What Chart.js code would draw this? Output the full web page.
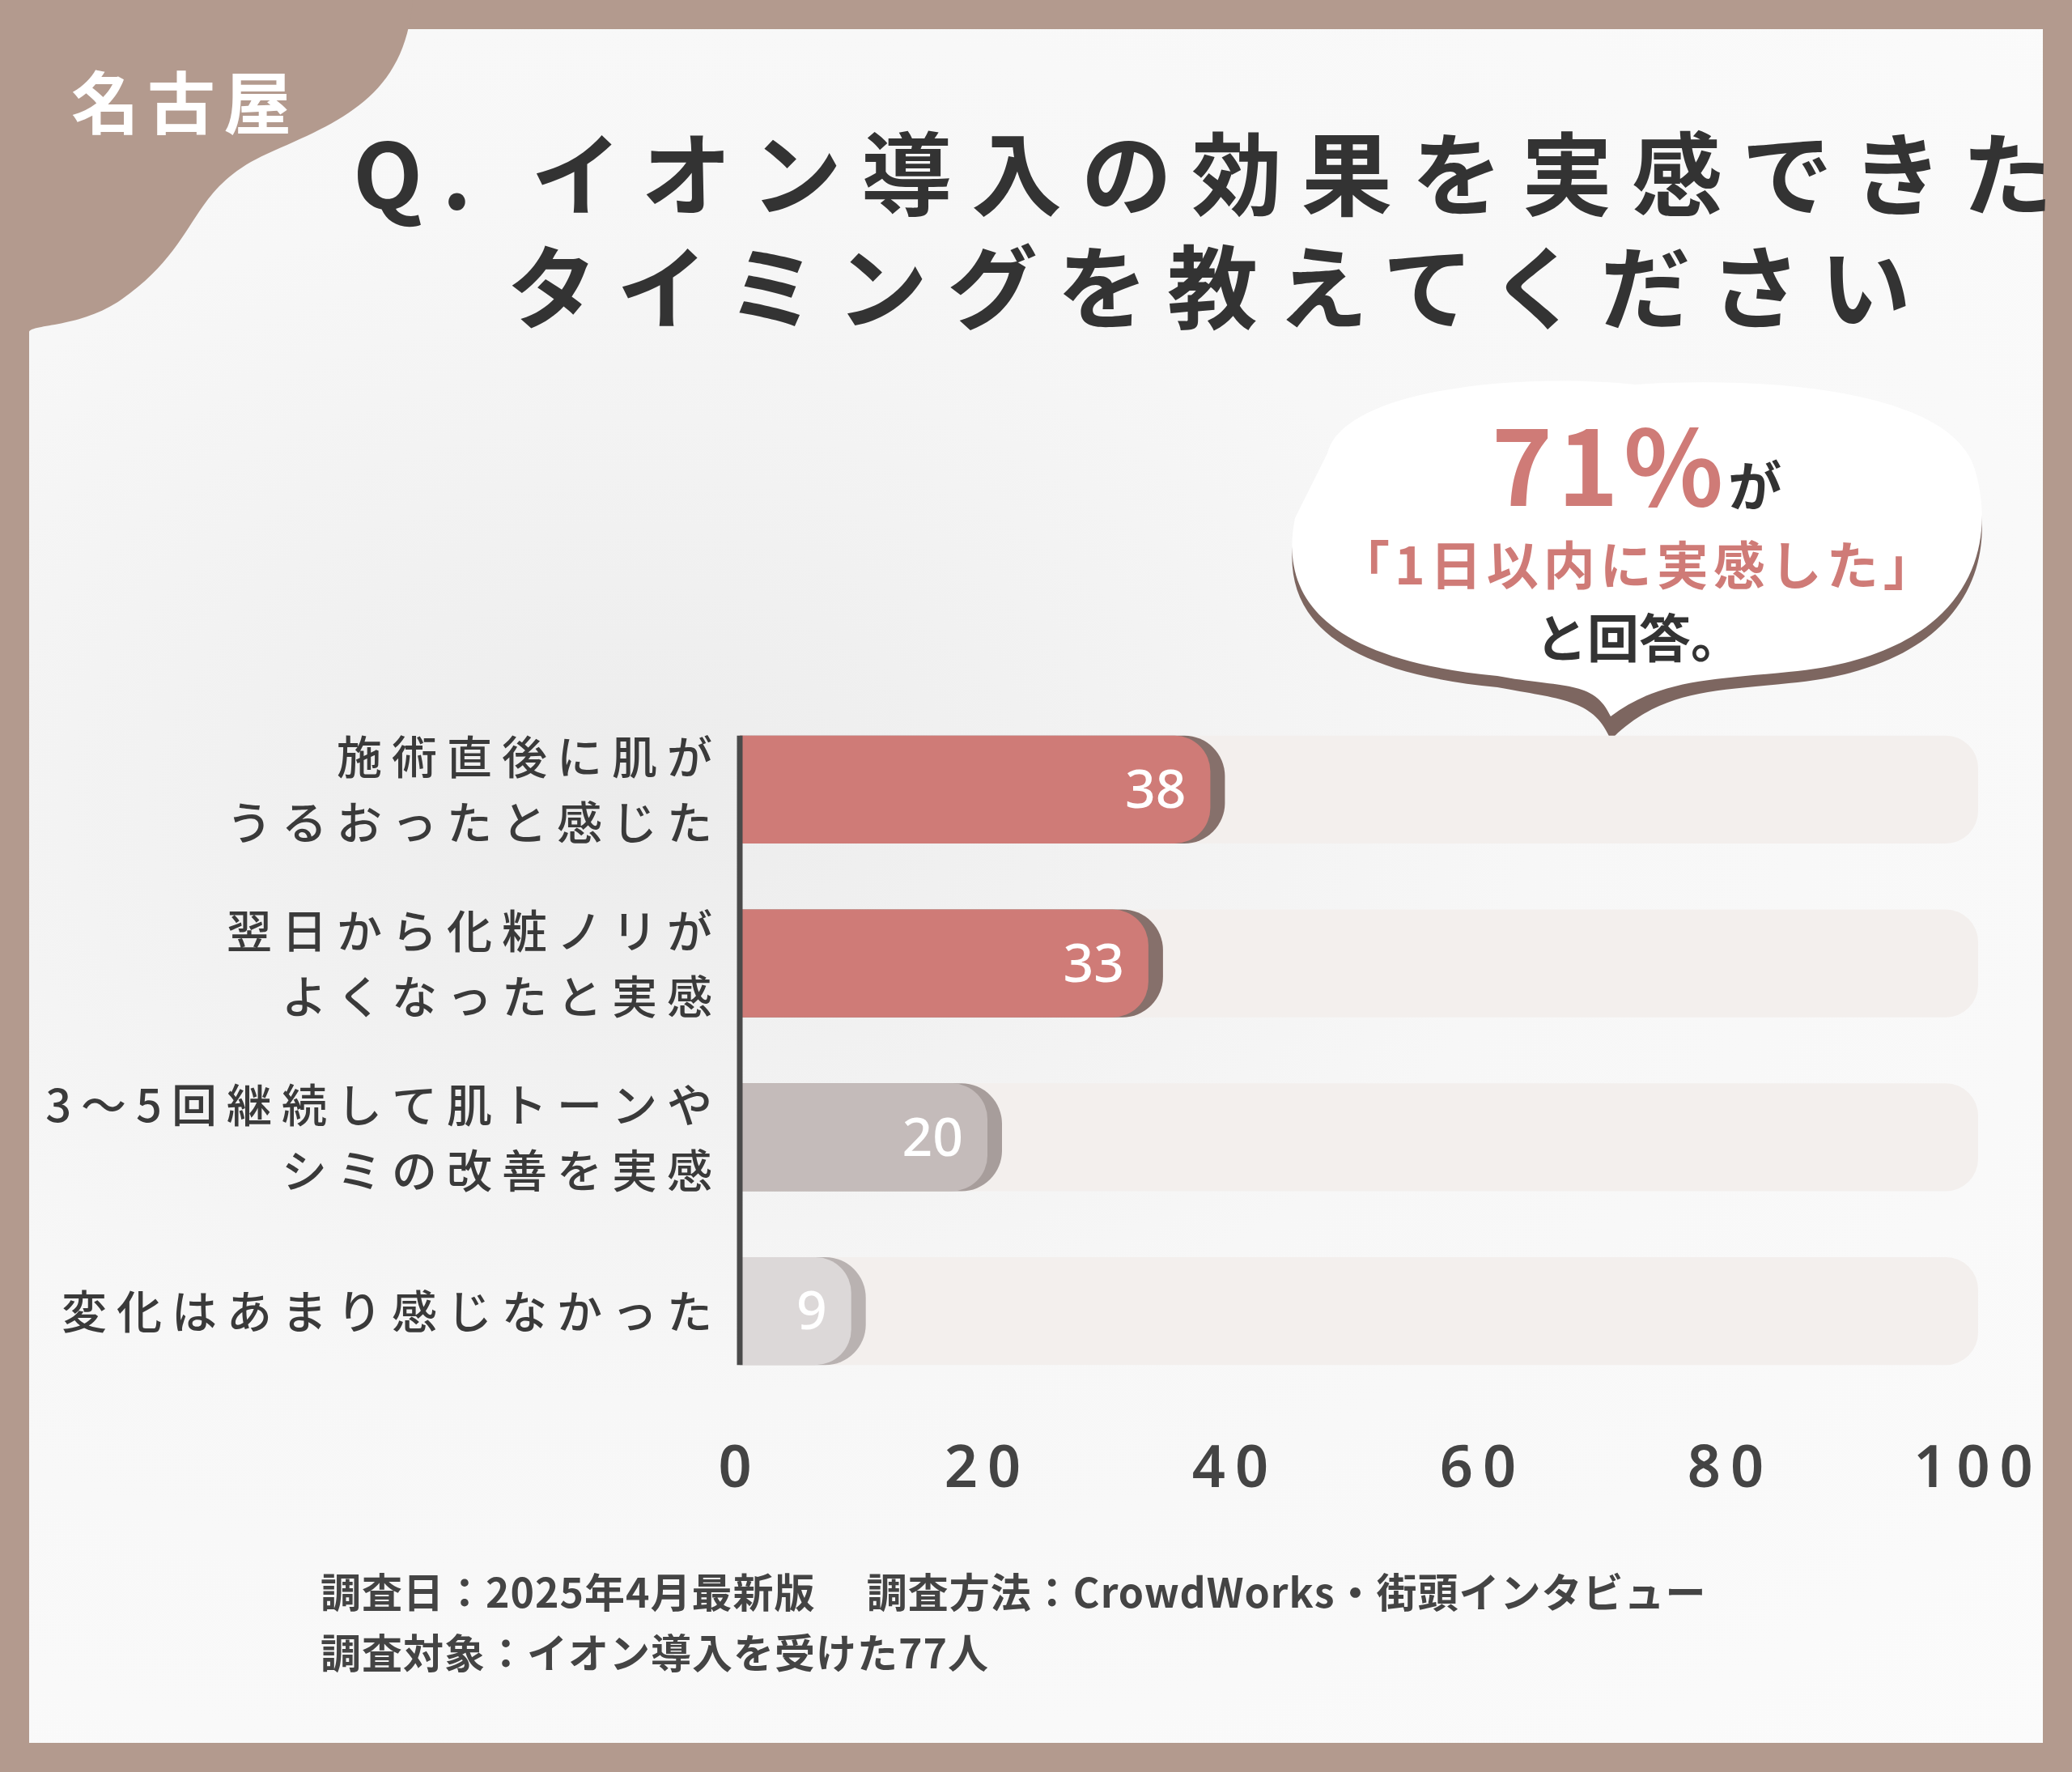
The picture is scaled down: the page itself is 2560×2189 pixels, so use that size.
<!DOCTYPE html>
<html>
<head>
<meta charset="utf-8">
<script src="https://cdn.jsdelivr.net/npm/chart.js@4"></script>
<style>
  html, body { margin: 0; padding: 0; }
  body { width: 2560px; height: 2189px; background: #b39a8e; position: relative; overflow: hidden;
         font-family: "Noto Sans CJK JP", "Noto Sans", sans-serif; }
  #panel { position: absolute; left: 36px; top: 36px; width: 2488px; height: 2117px;
           background: radial-gradient(ellipse at 30% 45%, #ececec 0%, #f7f7f7 45%, #fbfbfb 100%); }
  #blob { position: absolute; left: 0; top: 0; width: 520px; height: 420px; }
  #city { position: absolute; left: 88px; top: 62px; font-size: 84px; font-weight: 700; color: #fff; letter-spacing: 10px; }
  .title { position: absolute; font-size: 112px; font-weight: 700; color: #333; letter-spacing: 24px; white-space: nowrap; }
  #bubble { position: absolute; left: 1580px; top: 470px; width: 890px; height: 440px; }
  .btxt { position: absolute; width: 890px; left: 1580px; text-align: center; white-space: nowrap; }
  .foot { position: absolute; left: 396px; font-size: 50px; font-weight: 700; color: #444; white-space: nowrap; letter-spacing: 1px; }
  canvas { position: absolute; left: 0; top: 0; }
</style>
</head>
<body>
<div id="panel"></div>
<svg id="blob" viewBox="0 0 520 420">
  <path d="M0 0 H510 C500 120 420 150 330 190 C230 235 250 300 150 370 C100 405 40 400 36 410 V0 Z" fill="#b39a8e"/>
</svg>
<div id="city">名古屋</div>
<div class="title" style="left:436px; top:128px;">Q. イオン導入の効果を実感できた</div>
<div class="title" style="left:626px; top:268px;">タイミングを教えてください</div>

<svg id="bubble" viewBox="0 0 890 440">
  <path d="M60 90 C80 10 300 -10 440 5 C600 -5 830 10 860 110 C890 210 850 340 630 360 C530 370 470 370 410 430 C390 380 350 380 270 365 C60 345 0 270 20 170 Z"
        fill="#7d6660" transform="translate(0,14)"/>
  <path d="M60 90 C80 10 300 -10 440 5 C600 -5 830 10 860 110 C890 210 850 340 630 360 C530 370 470 370 410 415 C390 370 350 380 270 365 C60 345 0 270 20 170 Z"
        fill="#ffffff"/>
</svg>
<div class="btxt" style="top:500px; color:#cf7b77; font-size:128px; font-weight:700; letter-spacing:6px; line-height:1.1;">71%<span style="font-size:66px; color:#333;">が</span></div>
<div class="btxt" style="top:648px; color:#cf7b77; font-size:64px; font-weight:700; letter-spacing:6px;">「1日以内に実感した」</div>
<div class="btxt" style="top:738px; color:#333; font-size:64px; font-weight:700;">と回答。</div>

<div class="foot" style="top:1928px;">調査日：2025年4月最新版　 調査方法：CrowdWorks・街頭インタビュー</div>
<div class="foot" style="top:2003px;">調査対象：イオン導入を受けた77人</div>

<canvas id="c" width="2560" height="2189"></canvas>
<script>
const categories = [
  ['施術直後に肌が', 'うるおったと感じた'],
  ['翌日から化粧ノリが', 'よくなったと実感'],
  ['3～5回継続して肌トーンや', 'シミの改善を実感'],
  ['変化はあまり感じなかった']
];
const values = [38, 33, 20, 9];
const track = [100, 100, 100, 100];
const barColors = ['#cf7b77', '#cf7b77', '#c4bbba', '#dcd8d8'];
const shadowColors = ['#86706b', '#86706b', '#a79d9b', '#b9b2b1'];
const xTicks = [0, 20, 40, 60, 80, 100];

const barDecor = {
  id: 'barDecor',
  beforeDraw(chart) {
    chart.ctx.letterSpacing = '12px';
  },
  beforeDatasetsDraw(chart) {
    chart.ctx.letterSpacing = '0px';
  },
  afterDatasetDraw(chart, args) {
    if (args.index !== 0) return;
    // shadow on top of the track, behind the value bar
    const ctx = chart.ctx;
    chart.getDatasetMeta(1).data.forEach((bar, i) => {
      const h = bar.height, top = bar.y - h / 2;
      ctx.save();
      ctx.fillStyle = shadowColors[i];
      ctx.beginPath();
      ctx.roundRect(bar.base, top, bar.x - bar.base + 18, h, [0, 50, 50, 0]);
      ctx.fill();
      ctx.restore();
    });
  },
  afterDatasetsDraw(chart) {
    const ctx = chart.ctx;
    const meta = chart.getDatasetMeta(1);
    ctx.save();
    // axis line from first bar top to last bar bottom
    const first = meta.data[0], last = meta.data[meta.data.length - 1];
    ctx.strokeStyle = '#4a4a4a';
    ctx.lineWidth = 7;
    ctx.beginPath();
    ctx.moveTo(first.base, first.y - first.height / 2);
    ctx.lineTo(first.base, last.y + last.height / 2);
    ctx.stroke();
    ctx.fillStyle = '#ffffff';
    ctx.font = '500 66px "Noto Sans", sans-serif';
    ctx.textAlign = 'right';
    ctx.textBaseline = 'middle';
    meta.data.forEach((bar, i) => {
      ctx.fillText(String(values[i]), bar.x - 30, bar.y + 4);
    });
    ctx.restore();
  }
};

new Chart(document.getElementById('c'), {
  type: 'bar',
  data: {
    labels: categories,
    datasets: [
      { data: track, backgroundColor: '#f3efed', borderRadius: { topRight: 40, bottomRight: 40 }, borderSkipped: false,
        barPercentage: 0.62, categoryPercentage: 1, grouped: false, order: 2 },
      { data: values, backgroundColor: barColors, borderRadius: { topRight: 44, bottomRight: 44 }, borderSkipped: false,
        barPercentage: 0.62, categoryPercentage: 1, grouped: false, order: 1 }
    ]
  },
  options: {
    indexAxis: 'y',
    responsive: false,
    animation: false,
    layout: { padding: { top: 868, right: 116, bottom: 312, left: 0 } },
    plugins: { legend: { display: false }, tooltip: { enabled: false } },
    scales: {
      x: {
        min: 0, max: 100,
        afterFit: s => { s.height = 150; },
        afterBuildTicks: s => { s.ticks = xTicks.map(v => ({ value: v })); },
        grid: { display: false, drawTicks: false },
        border: { display: false },
        ticks: { color: '#444', font: { size: 72, weight: '600', family: '"Noto Sans", sans-serif' }, padding: 46 }
      },
      y: {
        afterFit: s => { s.width = 914; },
        grid: { display: false, drawTicks: false },
        border: { display: false },
        ticks: { color: '#3a3a3a', font: { size: 56, weight: '500', family: '"Noto Sans CJK JP", sans-serif', lineHeight: 1.45 }, padding: 22 }
      }
    }
  },
  plugins: [barDecor]
});
</script>
</body>
</html>
